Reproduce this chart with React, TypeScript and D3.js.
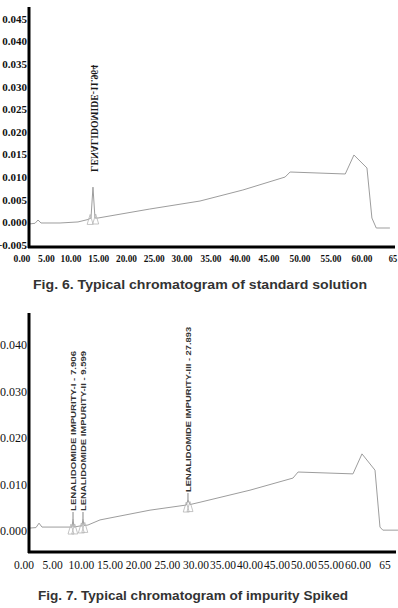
import React from "react";
import * as d3 from "d3";

// ---- Fig. 6 : standard solution ----
const time1 = [1.43, 2.65, 3.27, 3.88, 7.76, 11.26, 13.06, 13.6, 13.96, 14.32, 14.86, 24.2, 33.1, 40.5, 47.6, 48.4, 57.3, 58.7, 60.8, 61.6, 62.3, 64.5];
const signal1 = [-0.00035, -0.0002, 0.00053, -0.00013, -0.00013, 0.0001, 0.00064, 0.00097, 0.0078, 0.00097, 0.00097, 0.00296, 0.00473, 0.00717, 0.01004, 0.01115, 0.01071, 0.01491, 0.01204, 0.00097, -0.00124, -0.00124];
const peak1Label = ["LENALIDOMIDE-11.964"];
const peak1Time = [13.96];
const peak1Marks = [13.45, 14.45];
const yTicks1 = [-0.005, 0.0, 0.005, 0.01, 0.015, 0.02, 0.025, 0.03, 0.035, 0.04, 0.045];
const xTicks = [0, 5, 10, 15, 20, 25, 30, 35, 40, 45, 50, 55, 60, 65];

// ---- Fig. 7 : impurity spiked ----
const time2 = [1.05, 2.09, 2.62, 3.14, 8.02, 8.37, 8.55, 8.72, 9.77, 10.1, 10.29, 10.47, 11.16, 13.26, 21.98, 28.3, 28.6, 28.95, 30.74, 40.0, 47.96, 48.9, 59.07, 60.74, 63.15, 64.07, 64.6, 67.4];
const signal2 = [0.00065, 0.00075, 0.0017, 0.00086, 0.00086, 0.00086, 0.0026, 0.00086, 0.0011, 0.0011, 0.0026, 0.0012, 0.0013, 0.0024, 0.0045, 0.0056, 0.0067, 0.0057, 0.0062, 0.0088, 0.0114, 0.0127, 0.0123, 0.0166, 0.0131, 0.00086, 0.0002, 0.0002];
const peak2Labels = ["LENALIDOMIDE IMPURITY-I - 7.906", "LENALIDOMIDE IMPURITY-II - 9.599", "LENALIDOMIDE IMPURITY-III - 27.893"];
const peak2Times = [8.55, 10.29, 28.6];
const peak2Values = [0.0026, 0.0026, 0.0067];
const peak2Marks = [8.2, 8.85, 10.0, 10.6, 28.3, 28.95];
const yTicks2 = [0.0, 0.01, 0.02, 0.03, 0.04];

const captions = ["Fig. 6. Typical chromatogram of standard solution", "Fig. 7. Typical chromatogram of impurity Spiked"];

const serif = "'Liberation Serif', 'Times New Roman', serif";
const sans = "'Liberation Sans', Arial, sans-serif";
const lineColor = "#9d9d9d";

function fmtX(t: number) {
  return t === 65 ? "65" : t.toFixed(2);
}

function Triangle({ x, y }: { x: number; y: number }) {
  return (
    <path
      d={`M${x - 3},${y + 5} L${x},${y - 5} L${x + 3},${y + 5} Z`}
      fill="none"
      stroke="#b5b5b5"
      strokeWidth={0.8}
    />
  );
}

export default function App() {
  // Chart 1 scales
  const x1 = d3.scaleLinear().domain([0, 10, 30, 45, 65]).range([22, 71, 182, 269, 393]);
  const y1 = d3.scaleLinear().domain([-0.005, 0.045]).range([245, 19]);
  const data1 = time1.map((t, i) => [t, signal1[i]] as [number, number]);
  const line1 = d3.line<[number, number]>().x((d) => x1(d[0])).y((d) => y1(d[1]))(data1) || "";
  const base1 = (t: number) => {
    const i = d3.bisector((d: number) => d).left(time1, t);
    const a = Math.max(0, i - 1);
    const b = Math.min(time1.length - 1, i);
    if (a === b) return signal1[a];
    const f = (t - time1[a]) / (time1[b] - time1[a]);
    return signal1[a] + f * (signal1[b] - signal1[a]);
  };

  // Chart 2 scales
  const x2 = d3.scaleLinear().domain([0, 30, 65]).range([24, 196, 385]);
  const y2 = d3.scaleLinear().domain([-0.0045, 0.0469]).range([552, 313]);
  const data2 = time2.map((t, i) => [t, signal2[i]] as [number, number]);
  const line2 = d3.line<[number, number]>().x((d) => x2(d[0])).y((d) => y2(d[1]))(data2) || "";
  const base2 = (t: number) => {
    const i = d3.bisector((d: number) => d).left(time2, t);
    const a = Math.max(0, i - 1);
    const b = Math.min(time2.length - 1, i);
    if (a === b) return signal2[a];
    const f = (t - time2[a]) / (time2[b] - time2[a]);
    return signal2[a] + f * (signal2[b] - signal2[a]);
  };

  return (
    <svg
      width={398}
      height={608}
      style={{ position: "absolute", left: 0, top: 0, background: "#fff" }}
    >
      <rect x={0} y={0} width={398} height={608} fill="#fff" />

      {/* ===== Chart 1 ===== */}
      <g>
        {yTicks1.map((v) => (
          <text
            key={"y1" + v}
            x={27}
            y={y1(v)}
            dy="0.35em"
            textAnchor="end"
            fontFamily={serif}
            fontWeight="bold"
            fontSize={11}
            fill="#111"
          >
            {d3.format(".3f")(v)}
          </text>
        ))}
        {xTicks.map((t) => (
          <text
            key={"x1" + t}
            x={x1(t)}
            y={262}
            textAnchor="middle"
            fontFamily={serif}
            fontWeight="bold"
            fontSize={11}
            textLength={fmtX(t).length * 4.2}
            lengthAdjust="spacingAndGlyphs"
            fill="#111"
          >
            {fmtX(t)}
          </text>
        ))}
        <path d={line1} fill="none" stroke={lineColor} strokeWidth={1} />
        {peak1Marks.map((t, i) => (
          <Triangle key={"m1" + i} x={x1(t)} y={y1(base1(t)) + 1} />
        ))}
        {peak1Label.map((s, i) => (
          <text
            key={"l1" + i}
            transform={`translate(${x1(peak1Time[i]) - 2},${172}) rotate(-90) scale(1,-1)`}
            fontFamily={serif}
            fontWeight="bold"
            fontSize={10.5}
            textLength={107}
            lengthAdjust="spacingAndGlyphs"
            fill="#1a1a1a"
          >
            {s}
          </text>
        ))}
        <line x1={29} x2={29} y1={7} y2={248} stroke="#000" strokeWidth={3} />
        <line x1={28} x2={395} y1={247} y2={247} stroke="#000" strokeWidth={3} />
      </g>

      <text
        x={200}
        y={289}
        textAnchor="middle"
        fontFamily={sans}
        fontWeight="bold"
        fontSize={13.5}
        textLength={334}
        lengthAdjust="spacingAndGlyphs"
        fill="#333"
      >
        {captions[0]}
      </text>

      {/* ===== Chart 2 ===== */}
      <g>
        {yTicks2.map((v) => (
          <text
            key={"y2" + v}
            x={27}
            y={y2(v)}
            dy="0.35em"
            textAnchor="end"
            fontFamily={serif}
            fontSize={12}
            fill="#111"
          >
            {d3.format(".3f")(v)}
          </text>
        ))}
        {xTicks.map((t) => (
          <text
            key={"x2" + t}
            x={x2(t)}
            y={569}
            textAnchor="middle"
            fontFamily={serif}
            fontSize={11.5}
            fill="#111"
          >
            {fmtX(t)}
          </text>
        ))}
        <path d={line2} fill="none" stroke={lineColor} strokeWidth={1} />
        {peak2Marks.map((t, i) => (
          <Triangle key={"m2" + i} x={x2(t)} y={y2(base2(t)) + 2} />
        ))}
        {peak2Labels.map((s, i) => {
          const px = x2(peak2Times[i]);
          const yPeak = y2(peak2Values[i]);
          const yStart = yPeak - 7;
          const len = i === 2 ? 165 : 160;
          return (
            <g key={"l2" + i}>
              <line x1={px} x2={px} y1={yPeak} y2={yStart} stroke="#666" strokeWidth={0.8} />
              <text
                transform={`translate(${px + 3},${yStart - 1}) rotate(-90)`}
                fontFamily={sans}
                fontWeight="bold"
                fontSize={8}
                textLength={len}
                lengthAdjust="spacingAndGlyphs"
                fill="#333"
              >
                {s}
              </text>
            </g>
          );
        })}
        <line x1={29} x2={29} y1={313} y2={553} stroke="#000" strokeWidth={3} />
        <line x1={28} x2={396} y1={552} y2={552} stroke="#000" strokeWidth={3} />
      </g>

      <text
        x={193}
        y={600}
        textAnchor="middle"
        fontFamily={sans}
        fontWeight="bold"
        fontSize={13.5}
        textLength={310}
        lengthAdjust="spacingAndGlyphs"
        fill="#333"
      >
        {captions[1]}
      </text>
    </svg>
  );
}
